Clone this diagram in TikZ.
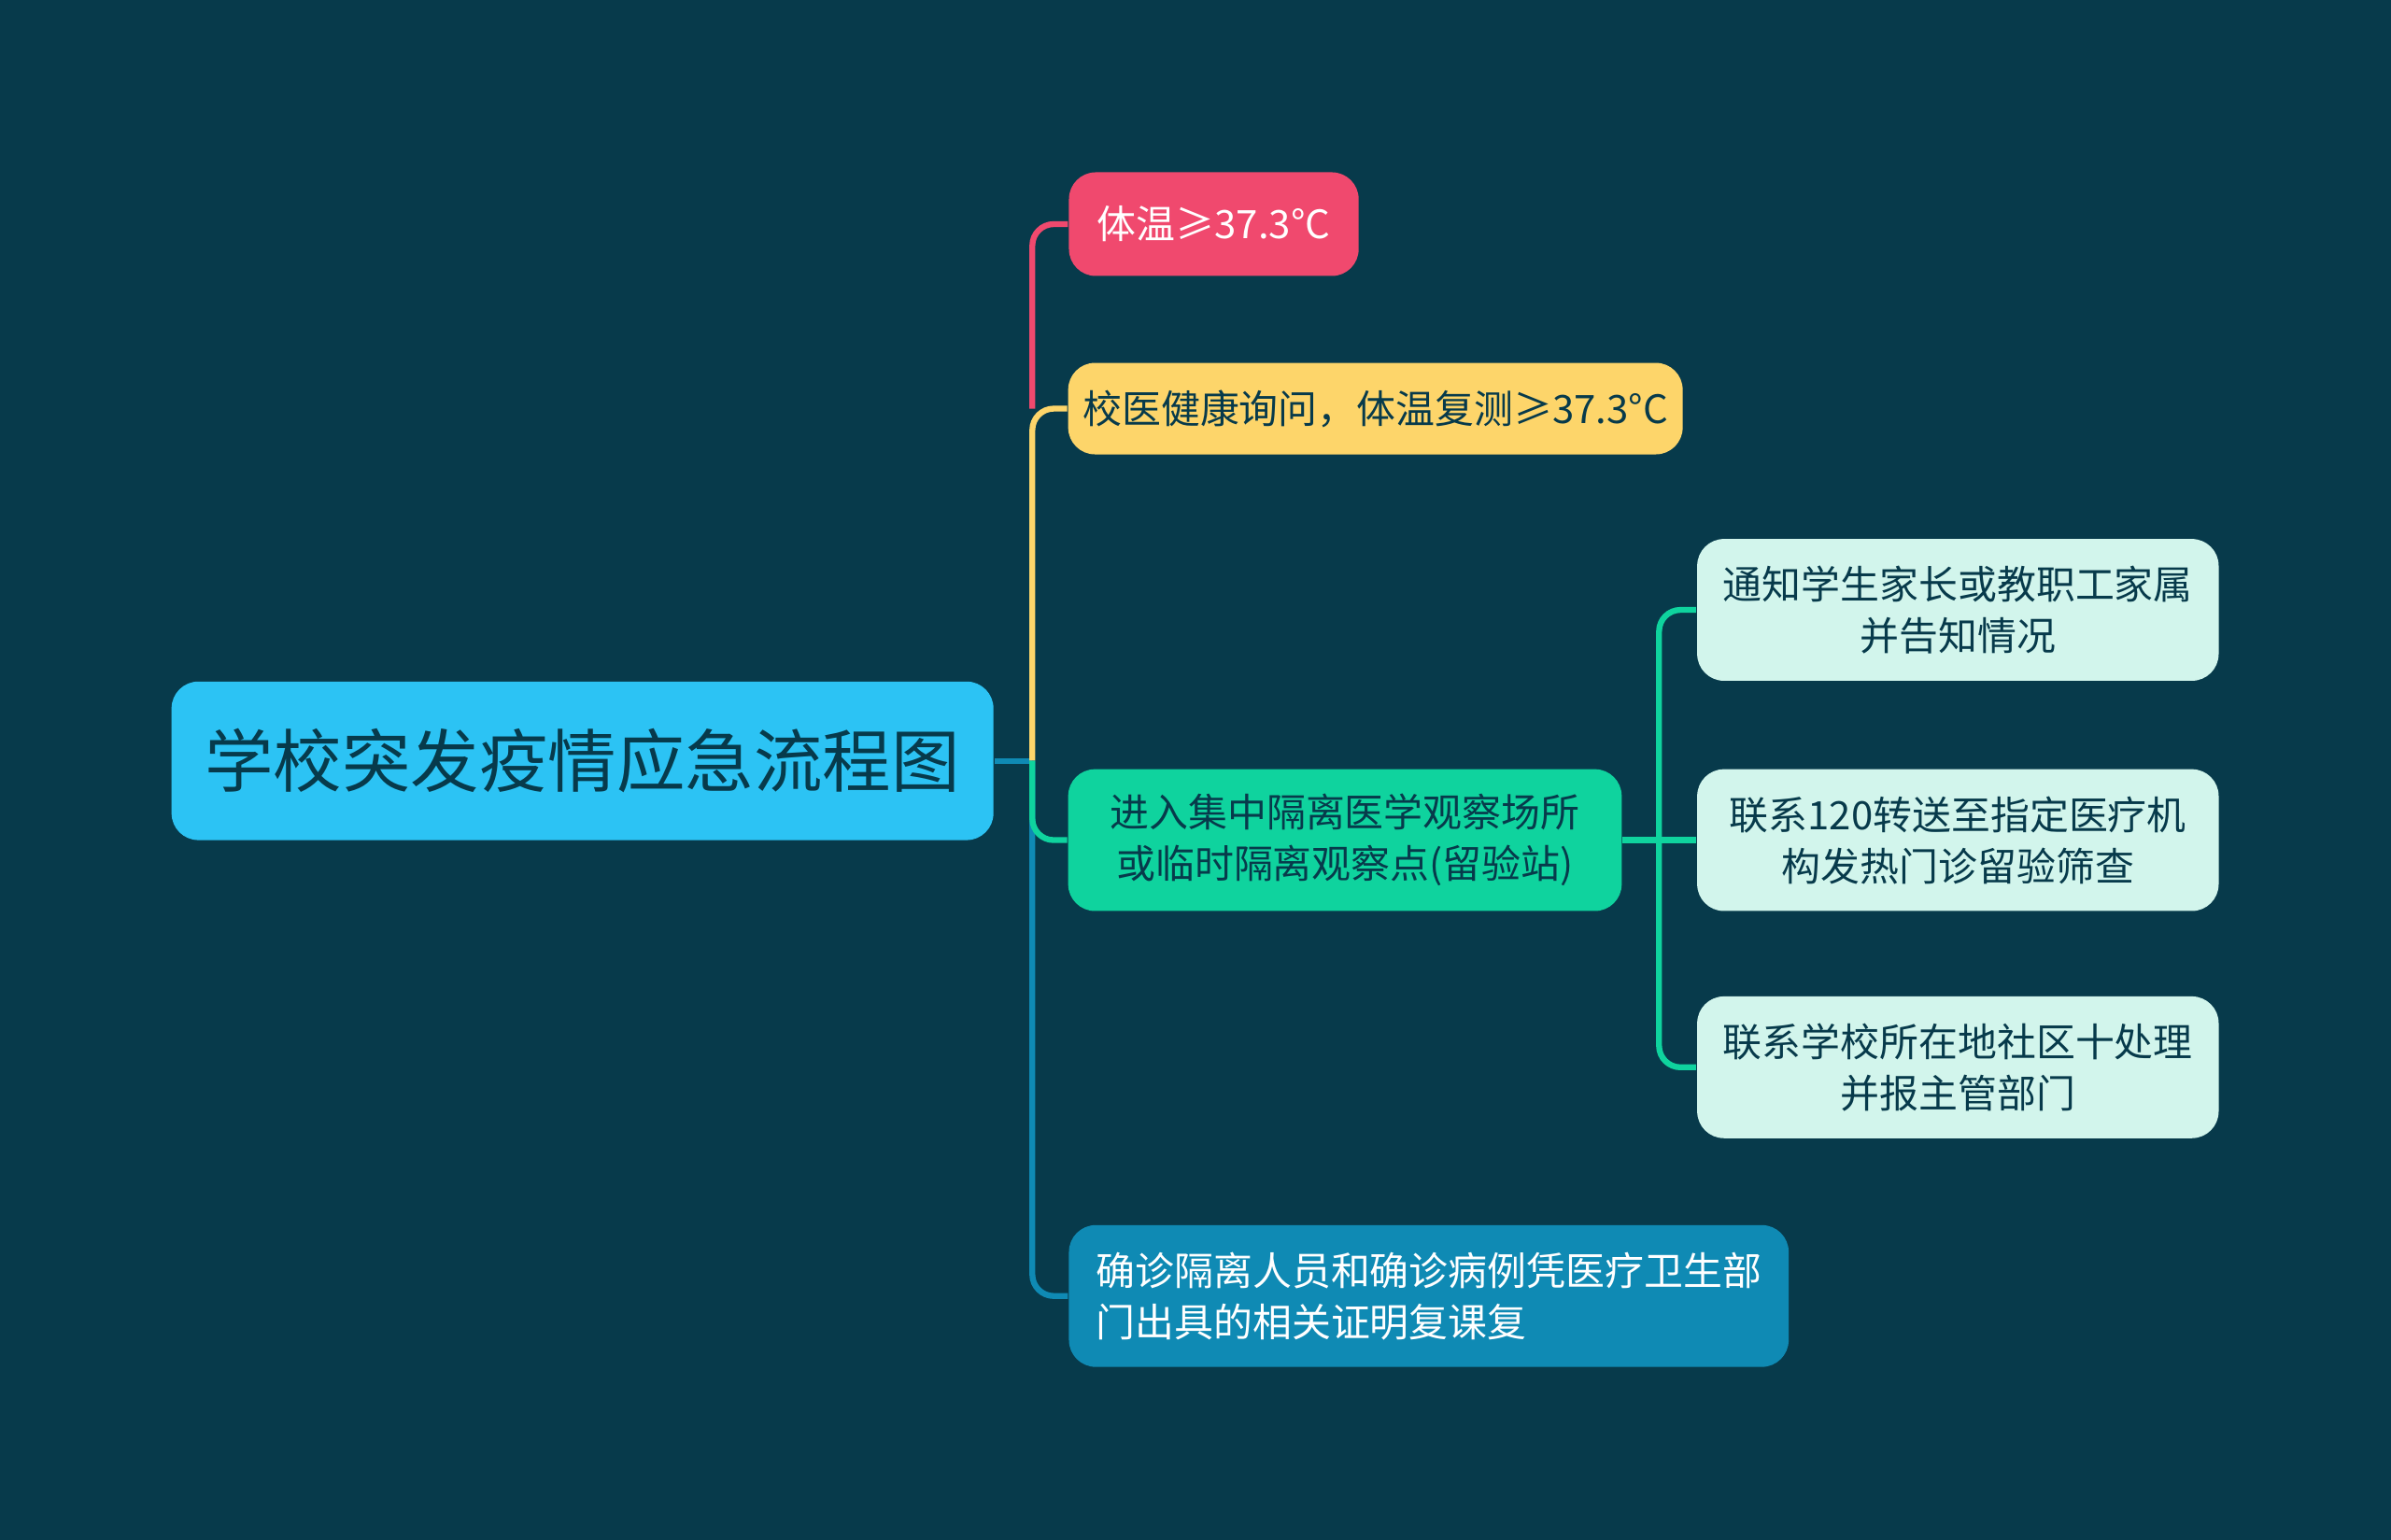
\documentclass[tikz,border=0pt]{standalone}
\usepackage{fontspec}
\setmainfont{Noto Sans CJK SC}
\definecolor{bgc}{HTML}{073A4B}
\definecolor{rootc}{HTML}{2CC3F4}
\definecolor{redc}{HTML}{F0496E}
\definecolor{yelc}{HTML}{FDD56A}
\definecolor{grnc}{HTML}{0FD39E}
\definecolor{bluc}{HTML}{0F8AB4}
\definecolor{litc}{HTML}{D2F5EC}
\tikzset{
	box/.style 2 args={rounded corners=5pt,fill=#1,text=#2,inner sep=0pt,align=center,font=\fontsize{7.3}{9.6}\selectfont},
	link/.style={line width=1.1pt,rounded corners=4pt}
}
\begin{document}
\begin{tikzpicture}[x=0.01cm,y=-0.01cm]
	\fill[bgc] (0,0) rectangle (1568,1010);
	\node [box={rootc}{bgc},minimum width=539*0.01cm,minimum height=104*0.01cm,font=\fontsize{12.8}{16}\selectfont] (root) at (382,499) {学校突发疫情应急流程图};
	\node [box={redc}{white},minimum width=190*0.01cm,minimum height=68*0.01cm] (temp) at (796,147) {体温≥37.3°C};
	\node [box={yelc}{bgc},minimum width=403*0.01cm,minimum height=60*0.01cm] (check) at (902,268) {校医健康询问，体温复测≥37.3°C};
	\node [box={grnc}{bgc},minimum width=363*0.01cm,minimum height=93*0.01cm] (iso) at (882,551) {进入集中隔离医学观察场所\\或临时隔离观察点(留验站)};
	\node [box={bluc}{white},minimum width=472*0.01cm,minimum height=93*0.01cm,align=left] (back) at (937,850) {确诊隔离人员和确诊病例凭医疗卫生部\\门出具的相关证明复课复};
	\node [box={litc}{bgc},minimum width=342*0.01cm,minimum height=93*0.01cm] (notify) at (1284,400) {通知学生家长或教职工家属\\并告知情况};
	\node [box={litc}{bgc},minimum width=342*0.01cm,minimum height=93*0.01cm] (call) at (1284,551) {联系120转送至指定医疗机\\构发热门诊留验筛查};
	\node [box={litc}{bgc},minimum width=342*0.01cm,minimum height=93*0.01cm] (report) at (1284,700) {联系学校所在地社区十处理\\并报主管部门};

	\coordinate (t) at (677,499);
	\coordinate (tr) at (677,268);
	\coordinate (g) at (1088,551);
	\draw [link,bluc] (root.east) -- (t);
	\draw [link,yelc] (t) |- (check.west);
	\draw [link,redc] (tr) |- (temp.west);
	\draw [link,bluc] (t) |- (back.west);
	\draw [link,grnc] (t) |- (iso.west);
	\draw [link,grnc] (iso.east) -- (g);
	\draw [link,grnc] (g) |- (notify.west);
	\draw [link,grnc] (g) |- (report.west);
	\draw [link,grnc] (g) -- (call.west);
\end{tikzpicture}
\end{document}
